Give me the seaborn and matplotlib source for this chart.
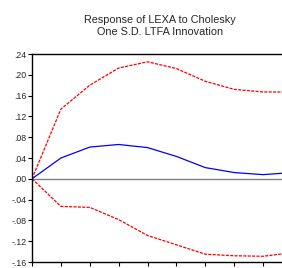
import matplotlib
matplotlib.use("Agg")
import matplotlib.pyplot as plt
import seaborn as sns
import pandas as pd
from matplotlib.ticker import FuncFormatter

periods = [1, 2, 3, 4, 5, 6, 7, 8, 9, 10]
response = [0.0, 0.040, 0.061, 0.066, 0.060, 0.043, 0.0215, 0.012, 0.008, 0.012]
upper = [0.0, 0.134, 0.180, 0.213, 0.225, 0.212, 0.1875, 0.172, 0.167, 0.167]
lower = [0.0, -0.053, -0.055, -0.0785, -0.109, -0.127, -0.145, -0.148, -0.149, -0.142]
yticks = [0.24, 0.20, 0.16, 0.12, 0.08, 0.04, 0.00, -0.04, -0.08, -0.12, -0.16]
title = "Response of LEXA to Cholesky\nOne S.D. LTFA Innovation"

sns.set_style("ticks")
plt.rcParams['font.family'] = ['Liberation Sans', 'DejaVu Sans']

fig = plt.figure(figsize=(2.82, 2.68), dpi=100)
ax = fig.add_axes([32/282, 6/268, 260/282, 208/268])

df = pd.DataFrame({"period": periods, "response": response, "upper": upper, "lower": lower})
ax.axhline(0, color="#808080", lw=1.0, zorder=1)
sns.lineplot(data=df, x="period", y="upper", ax=ax, color="#ff0000", lw=0.9, linestyle=(0, (2.5, 1)))
sns.lineplot(data=df, x="period", y="lower", ax=ax, color="#ff0000", lw=0.9, linestyle=(0, (2.5, 1)))
sns.lineplot(data=df, x="period", y="response", ax=ax, color="#0000ff", lw=0.9)

ax.set_xlim(1, 10)
ax.set_ylim(-0.16, 0.24)
ax.set_yticks(yticks)
def fmt(v, pos):
    s = f"{v:.2f}"
    s = s.replace("0.", ".")
    return s
ax.yaxis.set_major_formatter(FuncFormatter(fmt))
ax.set_xticks(periods)
ax.set_xticklabels([])
ax.tick_params(axis="both", direction="out", length=3, width=0.8, color="black", labelsize=6.3, pad=1)
ax.set_xlabel("")
ax.set_ylabel("")
for s in ax.spines.values():
    s.set_color("black")
    s.set_linewidth(1.0)
fig.text(160/282, 1 - 26/268, title, ha="center", va="center", fontsize=7.8, linespacing=1.15)

fig.savefig("out.png", dpi=100)
